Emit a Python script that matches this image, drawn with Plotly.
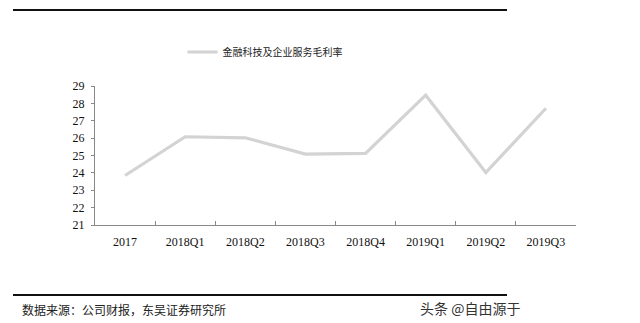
import plotly.graph_objects as go

categories = ["2017", "2018Q1", "2018Q2", "2018Q3", "2018Q4", "2019Q1", "2019Q2", "2019Q3"]
margin_values = [23.85, 26.08, 26.02, 25.08, 25.12, 28.47, 24.02, 27.72]
series_name = "金融科技及企业服务毛利率"
y_ticks = [21, 22, 23, 24, 25, 26, 27, 28, 29]
source_text = "数据来源：公司财报，东吴证券研究所"
watermark_text = "头条 @自由源于"

W, H = 640, 323
L, R, T, B = 95, 64, 86, 98
pw, ph = W - L - R, H - T - B

def px(x):
    return (x - L) / pw

def py(y):
    return (H - B - y) / ph

fig = go.Figure()
fig.add_trace(go.Scatter(
    x=categories, y=margin_values, mode="lines", name=series_name,
    line=dict(color="#d3d3d3", width=3.2),
))

serif = "Liberation Serif, Times New Roman, serif"
cjk = "Noto Sans CJK SC, sans-serif"

fig.update_layout(
    width=W, height=H,
    margin=dict(l=L, r=R, t=T, b=B),
    paper_bgcolor="white", plot_bgcolor="white",
    showlegend=True,
    legend=dict(
        x=px(265), y=py(52), xanchor="center", yanchor="middle",
        orientation="h", font=dict(family=cjk, size=10, color="#222"),
        bgcolor="rgba(0,0,0,0)", itemwidth=30,
    ),
    xaxis=dict(
        type="category", range=[-0.5, 7.5],
        showline=True, linecolor="#888", linewidth=1,
        ticks="inside", tickson="boundaries", ticklen=4, tickcolor="#888",
        tickfont=dict(family=serif, size=12, color="#111"),
        ticklabelstandoff=6,
        showgrid=False, zeroline=False, fixedrange=True,
    ),
    yaxis=dict(
        range=[21, 29], tickvals=y_ticks,
        showline=True, linecolor="#888", linewidth=1,
        ticks="outside", ticklen=3, tickcolor="#888",
        tickfont=dict(family=serif, size=12, color="#111"),
        ticklabelstandoff=4,
        showgrid=False, zeroline=False, fixedrange=True,
    ),
    shapes=[
        dict(type="line", xref="paper", yref="paper",
             x0=px(13), x1=px(507), y0=py(10), y1=py(10),
             line=dict(color="#111", width=2)),
        dict(type="line", xref="paper", yref="paper",
             x0=px(13), x1=px(507), y0=py(295), y1=py(295),
             line=dict(color="#111", width=2)),
    ],
    annotations=[
        dict(text=source_text, xref="paper", yref="paper",
             x=px(20), y=py(309), xanchor="left", yanchor="middle",
             showarrow=False, font=dict(family=cjk, size=12, color="#222")),
        dict(text=watermark_text, xref="paper", yref="paper",
             x=px(418), y=py(308), xanchor="left", yanchor="middle",
             showarrow=False, font=dict(family=cjk, size=14, color="#333")),
    ],
)

fig.write_html("out.html")
